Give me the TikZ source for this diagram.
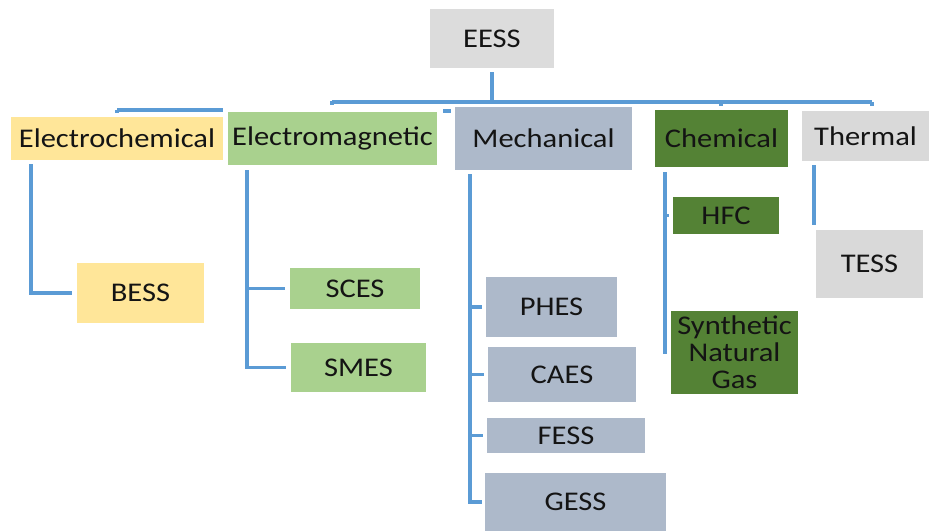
\documentclass[tikz,border=0pt]{standalone}
\usepackage{fontspec}
\setmainfont[FakeStretch=1.13]{Carlito}
\definecolor{yel}{HTML}{FFE699}
\definecolor{lgreen}{HTML}{A9D18E}
\definecolor{bgrey}{HTML}{ADB9CA}
\definecolor{dgreen}{HTML}{548235}
\definecolor{lgrey}{HTML}{D9D9D9}
\definecolor{egrey}{HTML}{DCDCDC}
\definecolor{lineblue}{HTML}{5B9BD5}
\definecolor{txt}{HTML}{141414}
\begin{document}
\begin{tikzpicture}[x=1pt,y=-1pt]
\tikzset{
  box/.style={rectangle, inner sep=0pt, font=\fontsize{27}{27}\selectfont, text=txt, align=center},
  conn/.style={draw=lineblue, line width=3.4pt}
}
\useasboundingbox (0,0) rectangle (929,531);
% top
\node[box, fill=egrey, minimum width=124pt, minimum height=59pt] (eess) at (492,38.5) {EESS};
% categories
\node[box, fill=yel, minimum width=212pt, minimum height=43pt] (ech) at (117,138.5) {Electrochemical};
\node[box, fill=lgreen, minimum width=209pt, minimum height=53pt] (emag) at (332.5,138.5) {Electromagnetic};
\node[box, fill=bgrey, minimum width=177pt, minimum height=63pt] (mech) at (543.5,138.5) {Mechanical};
\node[box, fill=dgreen, minimum width=133pt, minimum height=57pt] (chem) at (721.5,138.5) {Chemical};
\node[box, fill=lgrey, minimum width=127pt, minimum height=50pt] (therm) at (865.5,136) {Thermal};
% children
\node[box, fill=yel, minimum width=127pt, minimum height=60pt] (bess) at (140.5,293) {BESS};
\node[box, fill=lgreen, minimum width=130pt, minimum height=41pt] (sces) at (355,288.5) {SCES};
\node[box, fill=lgreen, minimum width=135pt, minimum height=49pt] (smes) at (358.5,367.5) {SMES};
\node[box, fill=bgrey, minimum width=131pt, minimum height=60pt] (phes) at (551.5,307) {PHES};
\node[box, fill=bgrey, minimum width=148pt, minimum height=55pt] (caes) at (562,374.5) {CAES};
\node[box, fill=bgrey, minimum width=158pt, minimum height=35pt] (fess) at (566,435.5) {FESS};
\node[box, fill=bgrey, minimum width=181pt, minimum height=58pt] (gess) at (575.5,502) {GESS};
\node[box, fill=dgreen, minimum width=106pt, minimum height=37pt] (hfc) at (726,215.5) {HFC};
\node[box, fill=dgreen, minimum width=127pt, minimum height=83pt] (sng) at (734.5,352.5) {Synthetic\\Natural\\Gas};
\node[box, fill=lgrey, minimum width=107pt, minimum height=68pt] (tess) at (869.5,264) {TESS};
% bus coordinates
\coordinate (trunk) at (492,102);
\coordinate (busL) at (332,102);
\coordinate (busR) at (872,102);
\coordinate (busC) at (721,102);
\coordinate (lbusL) at (117,110);
\coordinate (lbusR) at (223,110);
\coordinate (dashL) at (443,111);
\coordinate (dashR) at (451,111);
\coordinate (tesstop) at ([yshift=5pt]tess.north);
% top bus
\draw[conn, line width=4.2pt] ([yshift=-4pt]eess.south) -- (trunk);
\draw[conn] ([yshift=1pt]busL) -- ++(0,4) ;
\draw[conn] (busL) -- (busR);
\draw[conn] (busC) -- ++(0,4);
\draw[conn] (busR) -- ++(0,4);
\draw[conn] (lbusL) -- (lbusR);
\draw[conn] (lbusL) -- ++(0,3);
\draw[conn] (dashL) -- (dashR);
% electrochemical
\draw[conn] ([xshift=20pt,yshift=-4pt]ech.south west) coordinate (ev) |- ([xshift=-5pt]bess.west);
% electromagnetic
\draw[conn] ([xshift=19pt,yshift=-5pt]emag.south west) coordinate (mv) |- ([xshift=-5pt]smes.west);
\draw[conn] (mv |- sces.west) -- ([xshift=-5pt]sces.west);
% mechanical
\draw[conn] ([xshift=15pt,yshift=-4pt]mech.south west) coordinate (kv) |- ([xshift=-3pt]gess.west);
\draw[conn] (kv |- phes.west) -- ([xshift=-4pt]phes.west);
\draw[conn] (kv |- caes.west) -- ([xshift=-4pt]caes.west);
\draw[conn] (kv |- fess.west) -- ([xshift=-4pt]fess.west);
% chemical
\draw[conn] ([xshift=10pt,yshift=-5pt]chem.south west) coordinate (cv) |- ([xshift=-4pt]sng.west);
\draw[conn] (cv |- hfc.west) -- ([xshift=-4pt]hfc.west);
% thermal
\draw[conn] ([xshift=12pt,yshift=-4pt]therm.south west) coordinate (tv) -- (tv |- tesstop);
\end{tikzpicture}
\end{document}
